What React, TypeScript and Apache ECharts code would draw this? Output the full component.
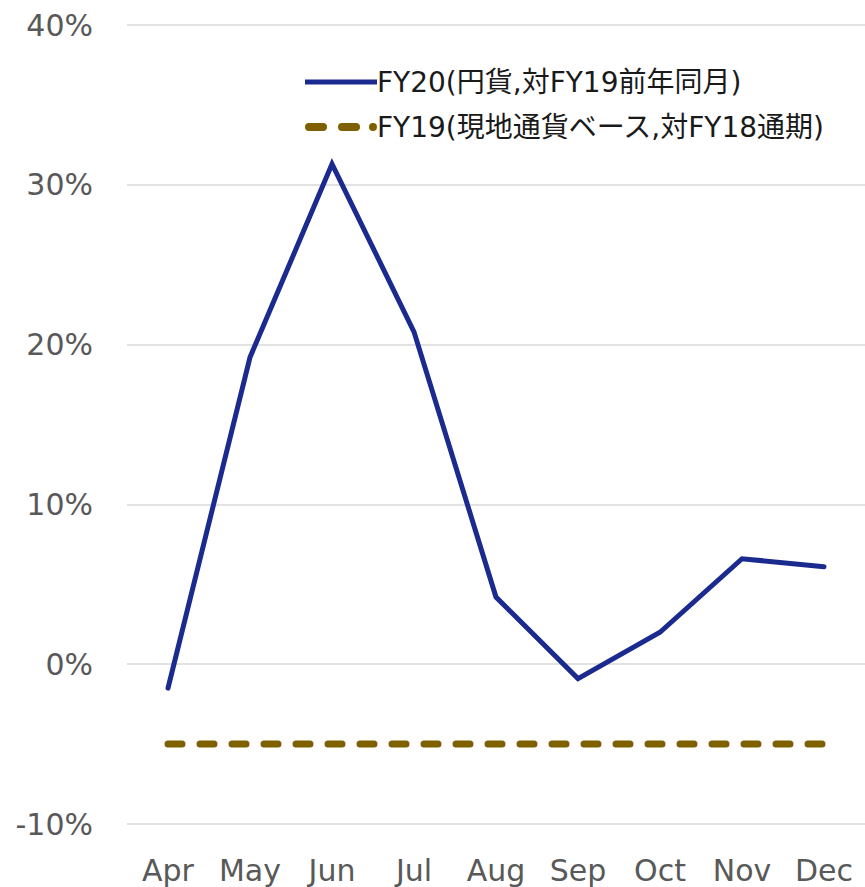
import React, { useEffect, useRef } from "react";
import * as echarts from "echarts";

const months = ["Apr", "May", "Jun", "Jul", "Aug", "Sep", "Oct", "Nov", "Dec"];
const fy20Values = [-1.5, 19.2, 31.3, 20.8, 4.2, -0.9, 2.0, 6.6, 6.1];
const fy19Values = [-5, -5, -5, -5, -5, -5, -5, -5, -5];
const fy20Name = "FY20(円貨,対FY19前年同月)";
const fy19Name = "FY19(現地通貨ベース,対FY18通期)";

export default function App() {
  const ref = useRef<HTMLDivElement>(null);
  useEffect(() => {
    document.body.style.margin = "0";
    const chart = echarts.init(ref.current!, null, { renderer: "svg" });
    const font = "Verdana, 'DejaVu Sans', 'Noto Sans CJK JP', sans-serif";
    const solidIcon = "path://M0,1.5 H72 V6.5 H0 Z M0,0 H0.01 V8 H0 Z";
    const dashIcon =
      "path://M4,0 H18 Q22,0 22,4 Q22,8 18,8 H4 Q0,8 0,4 Q0,0 4,0 Z M37,0 H51 Q55,0 55,4 Q55,8 51,8 H37 Q33,8 33,4 Q33,0 37,0 Z M68,0 Q72,0 72,4 Q72,8 68,8 Q64,8 64,4 Q64,0 68,0 Z";
    chart.setOption({
      animation: false,
      textStyle: { fontFamily: font },
      grid: { left: 127, right: 0, top: 25, bottom: 63, containLabel: false },
      legend: {
        orient: "vertical",
        left: 300,
        top: 63,
        itemWidth: 72,
        itemHeight: 8,
        itemGap: 17,
        textStyle: { fontSize: 28, color: "#1a1a1a", fontFamily: font, padding: [0, 0, 0, -5] },
        data: [
          { name: fy20Name, icon: solidIcon, itemStyle: { color: "#1B2A8E" } },
          { name: fy19Name, icon: dashIcon, itemStyle: { color: "#7F6000" } },
        ],
      },
      xAxis: {
        type: "category",
        data: months,
        boundaryGap: true,
        axisLine: { show: false },
        axisTick: { show: false },
        axisLabel: { fontSize: 30, color: "#595959", margin: 31, fontFamily: font },
      },
      yAxis: {
        type: "value",
        min: -10,
        max: 40,
        interval: 10,
        axisLine: { show: false },
        axisTick: { show: false },
        splitLine: { lineStyle: { color: "#d9d9d9", width: 1.5 } },
        axisLabel: { fontSize: 30, color: "#595959", margin: 34, formatter: "{value}%", fontFamily: font },
      },
      series: [
        {
          name: fy20Name,
          type: "line",
          data: fy20Values,
          symbol: "none",
          lineStyle: { color: "#1B2A8E", width: 5, cap: "round", join: "miter" },
          itemStyle: { color: "#1B2A8E" },
        },
        {
          name: fy19Name,
          type: "line",
          data: fy19Values,
          symbol: "none",
          lineStyle: { color: "#7F6000", width: 7, type: [14, 18], cap: "round" },
          itemStyle: { color: "#7F6000" },
        },
      ],
    });
    return () => chart.dispose();
  }, []);
  return <div ref={ref} style={{ width: 865, height: 887 }} />;
}
